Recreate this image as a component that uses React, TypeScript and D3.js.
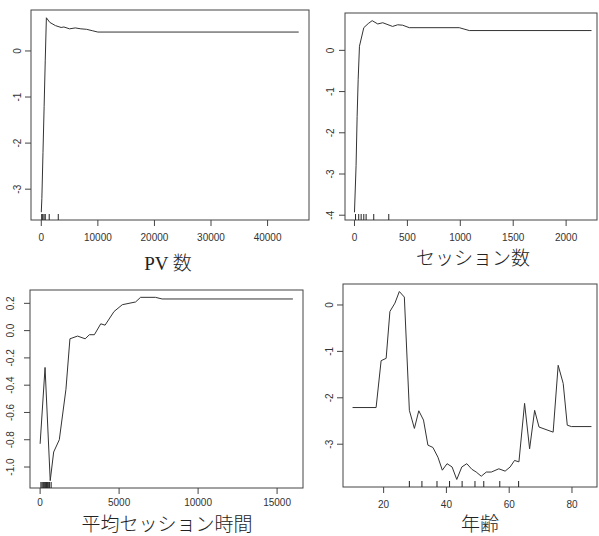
import React from 'react';
import { scaleLinear, line } from 'd3';

// PV 数
const pvX = [0, 100, 300, 500, 700, 900, 1500, 2500, 3500, 4000, 5000, 6000, 7000, 8000, 9000, 10000, 45500];
const pvY = [-3.5, -3.2, -2.2, -1.2, -0.2, 0.72, 0.62, 0.55, 0.51, 0.52, 0.48, 0.5, 0.48, 0.47, 0.44, 0.41, 0.41];
const pvRug = [70, 250, 480, 700, 1400, 3000];
const pvXTicks = [0, 10000, 20000, 30000, 40000];
const pvYTicks = [0, -1, -2, -3];

// セッション数
const sesX = [0, 15, 25, 35, 47, 88, 130, 167, 220, 267, 360, 408, 455, 518, 990, 1085, 2240];
const sesY = [-3.93, -2.8, -1.6, -0.7, 0.1, 0.55, 0.65, 0.72, 0.64, 0.67, 0.58, 0.62, 0.61, 0.55, 0.55, 0.48, 0.48];
const sesRug = [10, 40, 63, 88, 110, 182, 324];
const sesXTicks = [0, 500, 1000, 1500, 2000];
const sesYTicks = [0, -1, -2, -3, -4];

// 平均セッション時間
const timeX = [0, 313, 640, 858, 1215, 1635, 1887, 2370, 2853, 3120, 3435, 3839, 4112, 4679, 5203, 6043, 6358, 7302, 7722, 16000];
const timeY = [-0.83, -0.27, -1.1, -0.89, -0.8, -0.43, -0.06, -0.04, -0.06, -0.03, -0.03, 0.05, 0.04, 0.14, 0.19, 0.21, 0.244, 0.244, 0.232, 0.232];
const timeRug = [50, 120, 180, 230, 290, 350, 400, 460, 520, 600, 700];
const timeXTicks = [0, 5000, 10000, 15000];
const timeYTicks = [0.2, 0, -0.2, -0.4, -0.6, -0.8, -1.0];

// 年齢
const ageX = [10.1, 17.6, 19.2, 20.8, 22.0, 23.6, 25.0, 26.6, 28.2, 29.8, 31.2, 32.7, 34.1, 35.7, 37.3, 38.7, 40.2, 41.8, 43.3, 44.9, 46.5, 48.1, 49.5, 51.1, 52.7, 54.3, 56.7, 58.7, 60.3, 61.7, 63.1, 64.9, 66.5, 68.1, 69.5, 74.0, 75.6, 77.2, 78.5, 79.8, 86.2];
const ageY = [-2.21, -2.21, -1.2, -1.15, -0.14, 0.04, 0.29, 0.17, -2.27, -2.66, -2.28, -2.48, -3.02, -3.07, -3.28, -3.56, -3.42, -3.49, -3.76, -3.49, -3.42, -3.54, -3.6, -3.69, -3.6, -3.6, -3.53, -3.58, -3.49, -3.35, -3.38, -2.12, -3.1, -2.27, -2.63, -2.74, -1.3, -1.69, -2.59, -2.62, -2.62];
const ageRug = [28.2, 32.2, 37.0, 41.0, 45.0, 49.1, 51.9, 57.0, 63.0];
const ageXTicks = [20, 40, 60, 80];
const ageYTicks = [0, -1, -2, -3];

const padded = (vals: number[]) => {
  const lo = Math.min(...vals);
  const hi = Math.max(...vals);
  const p = (hi - lo) * 0.04;
  return [lo - p, hi + p];
};

type PanelProps = {
  xs: number[]; ys: number[]; rug: number[];
  xTicks: number[]; yTicks: number[]; yFmt: (v: number) => string;
  box: [number, number, number, number]; // x0, x1, y0, y1
  boxRight: number; yLabelOff: number; xLabelOff: number;
  title: string; titleX: number; titleY: number;
};

const Panel = ({ xs, ys, rug, xTicks, yTicks, yFmt, box, boxRight, yLabelOff, xLabelOff, title, titleX, titleY }: PanelProps) => {
  const [x0, x1, y0, y1] = box;
  const x = scaleLinear().domain(padded(xs)).range([x0, x1]);
  const y = scaleLinear().domain(padded(ys)).range([y1, y0]);
  const path = line<number>().x((d, i) => x(xs[i])).y(d => y(d))(ys) || '';
  const tickFont = { fontFamily: '"Liberation Sans", Arial, sans-serif', fontSize: 10, fill: '#333' };
  return (
    <g>
      <rect x={x0} y={y0} width={boxRight - x0} height={y1 - y0} fill="none" stroke="#444" strokeWidth={1} />
      <path d={path} fill="none" stroke="#333" strokeWidth={1} />
      {rug.map((r, i) => (
        <line key={i} x1={x(r)} x2={x(r)} y1={y1} y2={y1 - 6} stroke="#222" strokeWidth={1} />
      ))}
      {xTicks.map(t => (
        <g key={t}>
          <line x1={x(t)} x2={x(t)} y1={y1} y2={y1 + 6} stroke="#444" />
          <text x={x(t)} y={y1 + xLabelOff} textAnchor="middle" {...tickFont}>{t}</text>
        </g>
      ))}
      {yTicks.map(t => (
        <g key={t}>
          <line x1={x0} x2={x0 - 6} y1={y(t)} y2={y(t)} stroke="#444" />
          <text transform={`translate(${x0 - yLabelOff},${y(t)}) rotate(-90)`} textAnchor="middle" {...tickFont}>{yFmt(t)}</text>
        </g>
      ))}
      <text x={titleX} y={titleY} textAnchor="middle"
        style={{ fontFamily: '"Liberation Serif", "Noto Sans CJK JP", serif', fontSize: 19, fontWeight: 300, fill: '#222' }}>{title}</text>
    </g>
  );
};

const intFmt = (v: number) => String(v);
const decFmt = (v: number) => v.toFixed(1);

export default function App() {
  return (
    <div style={{ position: 'absolute', left: 0, top: 0 }}>
      <svg width={599} height={536} style={{ display: 'block', background: '#fff' }}>
        <Panel xs={pvX} ys={pvY} rug={pvRug} xTicks={pvXTicks} yTicks={pvYTicks} yFmt={intFmt}
          box={[31, 309, 10, 220]} boxRight={309} yLabelOff={10} xLabelOff={21}
          title="PV 数" titleX={168} titleY={270} />
        <Panel xs={sesX} ys={sesY} rug={sesRug} xTicks={sesXTicks} yTicks={sesYTicks} yFmt={intFmt}
          box={[345, 601, 13, 220]} boxRight={597} yLabelOff={11} xLabelOff={21}
          title="セッション数" titleX={473} titleY={265} />
        <Panel xs={timeX} ys={timeY} rug={timeRug} xTicks={timeXTicks} yTicks={timeYTicks} yFmt={decFmt}
          box={[30, 303, 290, 488]} boxRight={303} yLabelOff={16} xLabelOff={18}
          title="平均セッション時間" titleX={167} titleY={531} />
        <Panel xs={ageX} ys={ageY} rug={ageRug} xTicks={ageXTicks} yTicks={ageYTicks} yFmt={intFmt}
          box={[343, 601, 284, 487]} boxRight={597} yLabelOff={10} xLabelOff={21}
          title="年齢" titleX={480} titleY={531} />
      </svg>
    </div>
  );
}
